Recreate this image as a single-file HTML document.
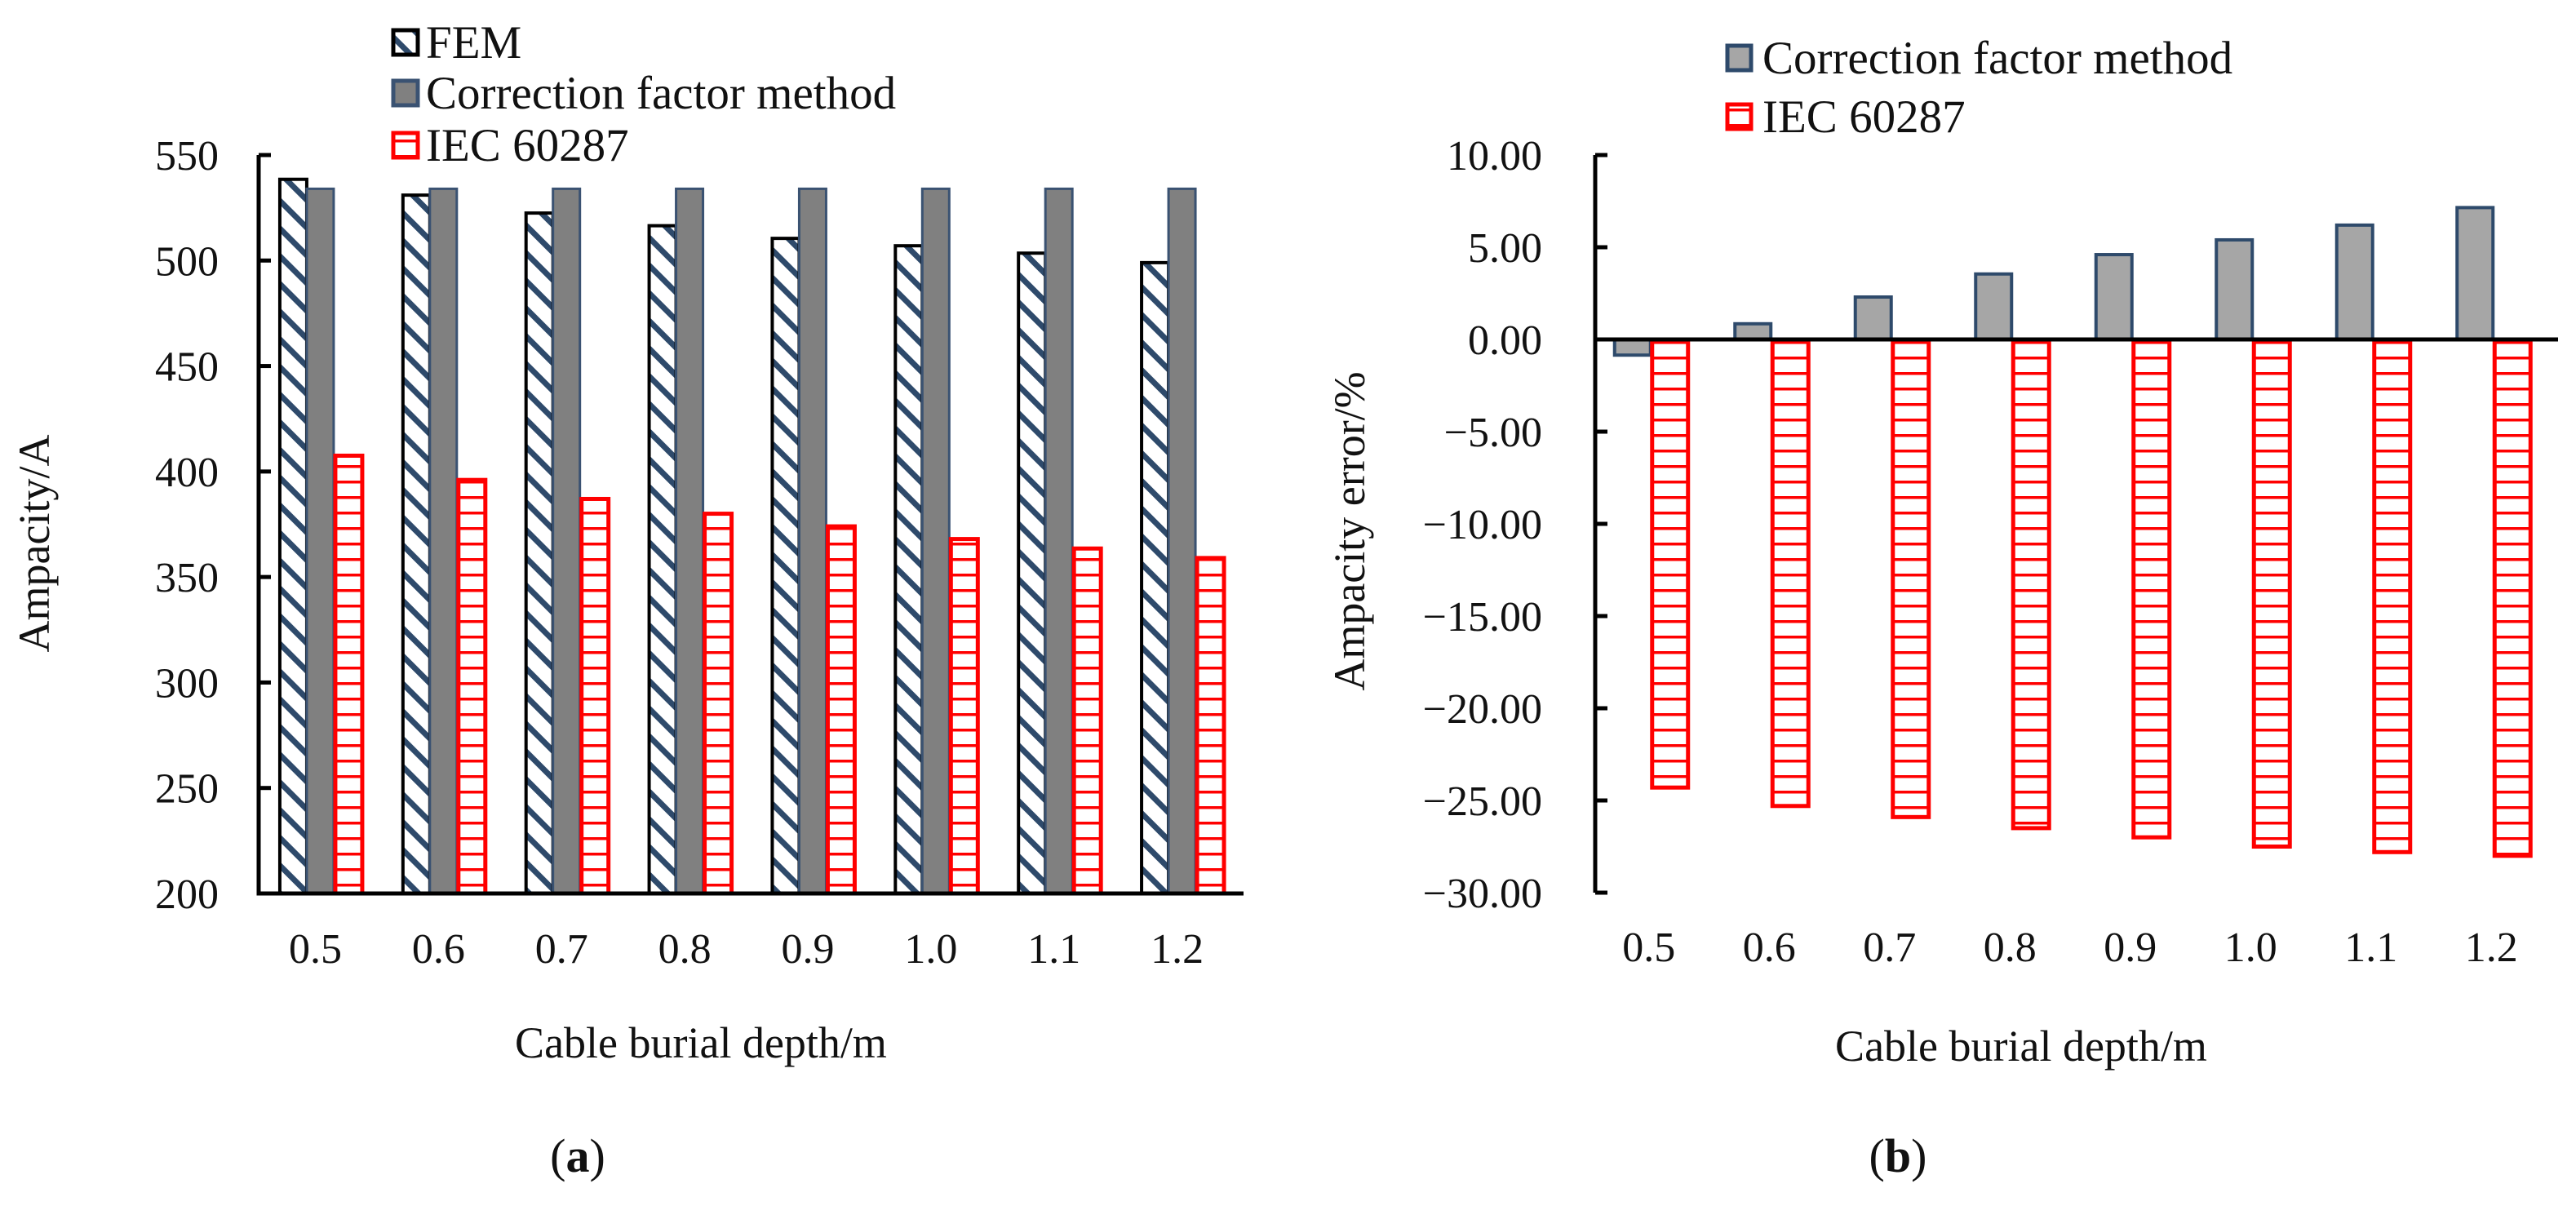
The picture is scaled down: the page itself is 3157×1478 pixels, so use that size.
<!DOCTYPE html>
<html><head><meta charset="utf-8"><style>
html,body{margin:0;padding:0;background:#fff}
svg{display:block;font-family:"Liberation Serif",serif}
</style></head><body>
<svg id="fig" width="3157" height="1478" viewBox="0 0 3157 1478" xmlns="http://www.w3.org/2000/svg">
<defs>
<pattern id="diag" patternUnits="userSpaceOnUse" width="24" height="24" patternTransform="rotate(45)">
<rect width="24" height="24" fill="#fff"/><rect x="0" y="0" width="24" height="7" fill="#2e4a6b"/>
</pattern>
<pattern id="hstripe" patternUnits="userSpaceOnUse" width="10" height="19">
<rect width="10" height="19" fill="#fff"/><rect x="0" y="0" width="10" height="3.5" fill="#ff0000"/>
</pattern>
</defs>
<g id="left"></g>
<g id="right"></g>
</svg>
<script>
const categories = ["0.5","0.6","0.7","0.8","0.9","1.0","1.1","1.2"];
const femValues = [538.5,531,522.5,516.5,510.5,507,503.5,499];
const cfmValues = [534,534,534,534,534,534,534,534];
const iecValues = [407.5,396,387,380,374,368,363.5,359];
const leftTicks = [200,250,300,350,400,450,500,550];
const errCfmValues = [-0.85,0.85,2.3,3.55,4.6,5.4,6.2,7.15];
const errIecValues = [-24.3,-25.3,-25.9,-26.5,-27.0,-27.5,-27.8,-28.0];
const rightTicks = [10,5,0,-5,-10,-15,-20,-25,-30];
const rightTickLabels = ["10.00","5.00","0.00","\u22125.00","\u221210.00","\u221215.00","\u221220.00","\u221225.00","\u221230.00"];

const NS="http://www.w3.org/2000/svg";
function mk(parent,tag,attrs,text){const e=document.createElementNS(NS,tag);for(const k in attrs)e.setAttribute(k,attrs[k]);if(text!==undefined)e.textContent=text;parent.appendChild(e);return e;}

// ---------- Left chart ----------
const L=document.getElementById('left');
const lx0=317,lx1=1524,lyTop=190,lyBot=1095,lmin=200,lmax=550;
const ly=v=>lyBot-(v-lmin)/(lmax-lmin)*(lyBot-lyTop);
const lband=(lx1-lx0)/categories.length;
const lx=i=>lx0+lband*(i+0.5);
const lbw=33;
categories.forEach((c,i)=>{
  const cx=lx(i);
  let r=mk(L,'rect',{x:cx-1.5*lbw,y:ly(femValues[i]),width:lbw,height:lyBot-ly(femValues[i]),fill:'url(#diag)',stroke:'#000','stroke-width':4});
  
  
  r=mk(L,'rect',{x:cx-0.5*lbw,y:ly(cfmValues[i]),width:lbw,height:lyBot-ly(cfmValues[i]),fill:'#808080',stroke:'#3a5272','stroke-width':3});
  
  
  r=mk(L,'rect',{x:cx+0.5*lbw+2,y:ly(iecValues[i]),width:lbw,height:lyBot-ly(iecValues[i]),fill:'url(#hstripe)',stroke:'#ff0000','stroke-width':5});
  
  
  const t=mk(L,'text',{x:cx-6,y:1180,'font-size':52,'text-anchor':'middle',fill:'#111'},c);
  
  
});
let ax=mk(L,'path',{d:`M${lx0},${lyTop} V${lyBot} H${lx1}`,fill:'none',stroke:'#000','stroke-width':5});


leftTicks.forEach(v=>{
  const tk=mk(L,'line',{x1:lx0,x2:lx0+15,y1:ly(v),y2:ly(v),stroke:'#000','stroke-width':5});
  
  
  const t=mk(L,'text',{x:268,y:ly(v)+18,'font-size':52,'text-anchor':'end',fill:'#111'},String(v));
  
  
});
let t=mk(L,'text',{x:0,y:0,'font-size':54,'text-anchor':'middle',transform:'translate(60,666) rotate(-90)',fill:'#111'},'Ampacity/A');


t=mk(L,'text',{x:859,y:1296,'font-size':54,'text-anchor':'middle',fill:'#111'},'Cable burial depth/m');


t=mk(L,'text',{x:708,y:1436,'font-size':58,'text-anchor':'middle',fill:'#111'});
t.innerHTML='(<tspan font-weight="bold">a</tspan>)';


const legL=[["FEM","url(#diag)","#000"],["Correction factor method","#808080","#3a5272"],["IEC 60287","url(#hstripe)","#ff0000"]];
const legLY=[52,114,178];
legL.forEach((e,i)=>{
  const g=mk(L,'g',{});
  
  
  mk(g,'rect',{x:482,y:legLY[i]-15,width:30,height:30,fill:e[1],stroke:e[2],'stroke-width':5});
  mk(g,'text',{x:522,y:legLY[i]+19,'font-size':57,fill:'#111'},e[0]);
});

// ---------- Right chart ----------
const R=document.getElementById('right');
const rx0=1955,rx1=3135,ryTop=190,ryBot=1094,rmin=-30,rmax=10;
const ry=v=>ryBot-(v-rmin)/(rmax-rmin)*(ryBot-ryTop);
const rband=(rx1-rx0)/categories.length;
const rx=i=>rx0+rband*(i+0.5);
const rbw=44;
categories.forEach((c,i)=>{
  const cx=rx(i)-6;
  const v=errCfmValues[i];
  let r=mk(R,'rect',{x:cx-rbw,y:Math.min(ry(v),ry(0)),width:rbw,height:Math.abs(ry(v)-ry(0)),fill:'#a6a6a6',stroke:'#2e4a6b','stroke-width':4});
  
  
  const w=errIecValues[i];
  r=mk(R,'rect',{x:cx+2,y:Math.min(ry(w),ry(0)),width:rbw,height:Math.abs(ry(w)-ry(0)),fill:'url(#hstripe)',stroke:'#ff0000','stroke-width':5});
  
  
  const tt=mk(R,'text',{x:cx-2,y:1178,'font-size':52,'text-anchor':'middle',fill:'#111'},c);
  
  
});
ax=mk(R,'path',{d:`M${rx0},${ryTop} V${ryBot} M${rx0},${ry(0)} H${rx1}`,fill:'none',stroke:'#000','stroke-width':5});


rightTicks.forEach((v,i)=>{
  const tk=mk(R,'line',{x1:rx0,x2:rx0+15,y1:ry(v),y2:ry(v),stroke:'#000','stroke-width':5});
  
  
  const tt=mk(R,'text',{x:1890,y:ry(v)+18,'font-size':52,'text-anchor':'end',fill:'#111'},rightTickLabels[i]);
  
  
});
t=mk(R,'text',{x:0,y:0,'font-size':54,'text-anchor':'middle',transform:'translate(1672,651) rotate(-90)',fill:'#111'},'Ampacity error/%');


t=mk(R,'text',{x:2477,y:1300,'font-size':54,'text-anchor':'middle',fill:'#111'},'Cable burial depth/m');


t=mk(R,'text',{x:2326,y:1436,'font-size':58,'text-anchor':'middle',fill:'#111'});
t.innerHTML='(<tspan font-weight="bold">b</tspan>)';


const legR=[["Correction factor method","#a6a6a6","#2e4a6b"],["IEC 60287","url(#hstripe)","#ff0000"]];
const legRY=[71,143];
legR.forEach((e,i)=>{
  const g=mk(R,'g',{});
  
  
  mk(g,'rect',{x:2117,y:legRY[i]-15,width:29,height:30,fill:e[1],stroke:e[2],'stroke-width':5});
  mk(g,'text',{x:2160,y:legRY[i]+19,'font-size':57,fill:'#111'},e[0]);
});
</script>
</body></html>
